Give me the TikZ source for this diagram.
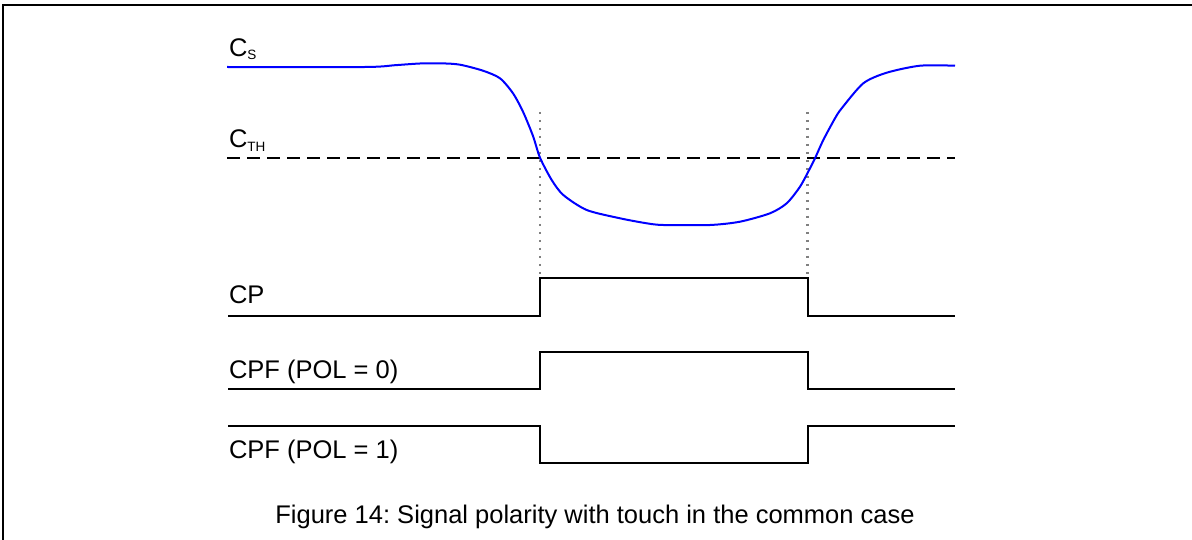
\documentclass[tikz,border=0pt]{standalone}
\usepackage{fontspec}
\setmainfont{Liberation Sans}
\frenchspacing
\newcommand{\subsz}{\fontsize{13.5}{14}\selectfont}
\begin{document}
\begin{tikzpicture}[x=1pt,y=-1pt,
  lbl/.style={inner sep=0pt, outer sep=0pt, anchor=base west, font=\fontsize{25.5}{30}\selectfont},
  wave/.style={line width=2pt, black, line join=miter},
  thresh/.style={line width=2pt, black, dash pattern=on 12.7pt off 7.3pt},
  guide/.style={line width=2.2pt, black!50, dash pattern=on 2pt off 6pt},
  cs/.style={line width=2pt, blue, line join=round},
  frame/.style={line width=2pt, black}]
\useasboundingbox (0,0) rectangle (1192,540);
\draw[frame] (3,541) -- (3,5) -- (1193,5);

% labels
\node[lbl] (lcs) at (229,57) {C\raisebox{-3pt}{\subsz S}};
\node[lbl] (lcth) at (229,148) {C\raisebox{-4pt}{\subsz TH}};
\node[lbl] (lcp) at (229,304) {CP};
\node[lbl] (lcpf0) at (229,378.5) {CPF (POL = 0)};
\node[lbl] (lcpf1) at (229,458.5) {CPF (POL = 1)};
\node[lbl, anchor=base] (cap) at (595,523) {Figure 14: Signal polarity with touch in the common case};

% guides
\coordinate (g1t) at (540,112);
\coordinate (g1b) at (540,278);
\coordinate (g2t) at (807.5,112);
\coordinate (g2b) at (807.5,278);
\draw[guide] (g1t) -- (g1b);
\draw[guide] (g2t) -- (g2b);

% threshold
\coordinate (ths) at (227,157.7);
\coordinate (the) at (955,157.7);
\draw[thresh] (ths) -- (the);

% Cs curve
\draw[cs] plot[smooth, tension=0.45] coordinates {
 (227,67) (365,67) (395,65.2) (420,63.5) (443,63.4) (460,64.7) (483,70.7) (500,78.3)
 (513,93.3) (523,111.7) (533,136) (540,157.7) (551.7,180) (563.3,195) (586.7,210)
 (620,218.3) (646.7,223.3) (663.3,225) (710,225) (740,221.7) (770,213.3) (786.7,203.3)
 (800,186.7) (810,168.3) (815,158.3) (823.3,140) (835,118.3) (841.7,108.3) (863.3,83.3)
 (886.7,72.7) (920,65.7) (955,65.7)};

% CP
\draw[wave] (228,316) -- (540,316) -- (540,278) -- (807.5,278) -- (807.5,316) -- (955,316);
% CPF POL=0
\draw[wave] (228,389.3) -- (540,389.3) -- (540,351.7) -- (807.5,351.7) -- (807.5,389.3) -- (955,389.3);
% CPF POL=1
\draw[wave] (228,425.7) -- (540,425.7) -- (540,462.7) -- (807.5,462.7) -- (807.5,425.7) -- (955,425.7);
\end{tikzpicture}
\end{document}
